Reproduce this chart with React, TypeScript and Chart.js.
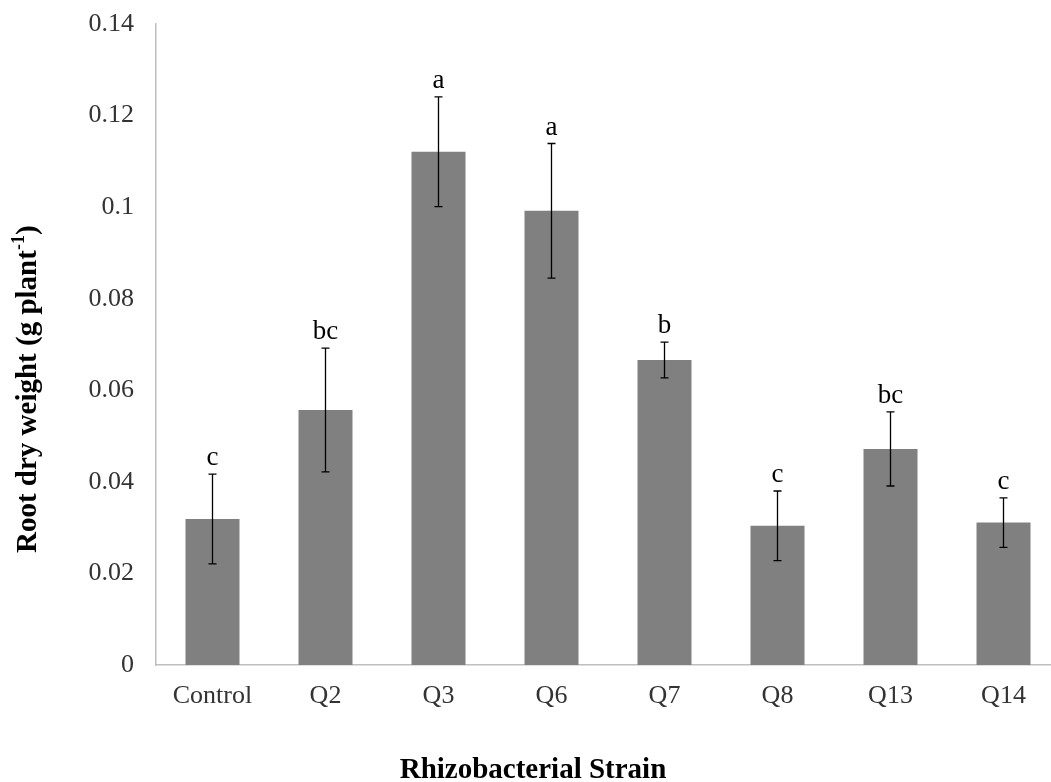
import React, { useEffect, useRef } from 'react';
import { Chart, registerables } from 'chart.js';

Chart.register(...registerables);

const categories = ['Control', 'Q2', 'Q3', 'Q6', 'Q7', 'Q8', 'Q13', 'Q14'];
const means = [0.0319, 0.0557, 0.1121, 0.0992, 0.0666, 0.0304, 0.0472, 0.0311];
const errors = [0.0098, 0.0135, 0.012, 0.0147, 0.0039, 0.0076, 0.0081, 0.0054];
const letters = ['c', 'bc', 'a', 'a', 'b', 'c', 'bc', 'c'];
const yTickLabels = ['0', '0.02', '0.04', '0.06', '0.08', '0.1', '0.12', '0.14'];
const xTitle = 'Rhizobacterial Strain';
const yTitleMain = 'Root dry weight (g plant';
const yTitleSup = '-1';
const yTitleEnd = ')';

const SERIF = '"Liberation Serif", "Times New Roman", serif';

const overlay = {
  id: 'overlay',
  afterDatasetsDraw(chart: any) {
    const { ctx, scales } = chart;
    const x = scales.x;
    const y = scales.y;
    ctx.save();
    means.forEach((m, i) => {
      const cx = x.getPixelForValue(i);
      const top = y.getPixelForValue(m + errors[i]);
      const bot = y.getPixelForValue(m - errors[i]);
      ctx.strokeStyle = '#000';
      ctx.lineWidth = 1.3;
      ctx.beginPath();
      ctx.moveTo(cx, top);
      ctx.lineTo(cx, bot);
      ctx.moveTo(cx - 4, top);
      ctx.lineTo(cx + 4, top);
      ctx.moveTo(cx - 4, bot);
      ctx.lineTo(cx + 4, bot);
      ctx.stroke();
      ctx.fillStyle = '#000';
      ctx.font = `27px ${SERIF}`;
      ctx.textAlign = 'center';
      ctx.textBaseline = 'alphabetic';
      ctx.fillText(letters[i], cx, top - 9);
    });

    // x axis title
    ctx.fillStyle = '#000';
    ctx.font = `bold 29px ${SERIF}`;
    ctx.textAlign = 'center';
    ctx.textBaseline = 'alphabetic';
    ctx.fillText(xTitle, 533, 778);

    // y axis title (rotated, with superscript)
    ctx.save();
    ctx.translate(36, 553);
    ctx.rotate(-Math.PI / 2);
    ctx.textAlign = 'left';
    ctx.font = `bold 29px ${SERIF}`;
    ctx.fillText(yTitleMain, 0, 0);
    const w1 = ctx.measureText(yTitleMain).width;
    ctx.font = `bold 18px ${SERIF}`;
    ctx.fillText(yTitleSup, w1, -12);
    const w2 = ctx.measureText(yTitleSup).width;
    ctx.font = `bold 29px ${SERIF}`;
    ctx.fillText(yTitleEnd, w1 + w2, 0);
    ctx.restore();

    ctx.restore();
  },
};

export default function App() {
  const canvasRef = useRef<HTMLCanvasElement | null>(null);

  useEffect(() => {
    const canvas = canvasRef.current;
    if (!canvas) return;
    const chart = new Chart(canvas, {
      type: 'bar',
      data: {
        labels: categories,
        datasets: [
          {
            data: means,
            backgroundColor: '#808080',
            borderWidth: 0,
            barPercentage: 0.478,
            categoryPercentage: 1,
          },
        ],
      },
      options: {
        responsive: false,
        animation: false,
        devicePixelRatio: 1,
        layout: { padding: { left: 0, top: 24, right: 20, bottom: 0 } },
        plugins: {
          legend: { display: false },
          tooltip: { enabled: false },
          title: { display: false },
        },
        scales: {
          x: {
            grid: { display: false, drawTicks: false },
            border: { display: true, color: '#bfbfbf', width: 1.5 },
            ticks: {
              color: '#333',
              padding: 16,
              font: { family: SERIF, size: 26 },
              maxRotation: 0,
              autoSkip: false,
            },
            afterFit: (s: any) => {
              s.height = 117;
              s.paddingLeft = 0;
              s.paddingRight = 0;
            },
          },
          y: {
            min: 0,
            max: 0.14,
            grid: { display: false, drawTicks: false },
            border: { display: true, color: '#bfbfbf', width: 1.5 },
            ticks: {
              stepSize: 0.02,
              color: '#333',
              padding: 22,
              font: { family: SERIF, size: 26 },
              callback: (_v: any, i: number) => yTickLabels[i],
            },
            afterFit: (s: any) => {
              s.width = 156;
              s.paddingTop = 0;
              s.paddingBottom = 0;
            },
          },
        },
      },
      plugins: [overlay],
    });
    return () => chart.destroy();
  }, []);

  return (
    <div
      style={{
        position: 'fixed',
        left: 0,
        top: 0,
        width: 1051,
        height: 782,
        overflow: 'hidden',
        background: '#fff',
      }}
    >
      <canvas ref={canvasRef} width={1080} height={782} style={{ display: 'block' }} />
    </div>
  );
}
